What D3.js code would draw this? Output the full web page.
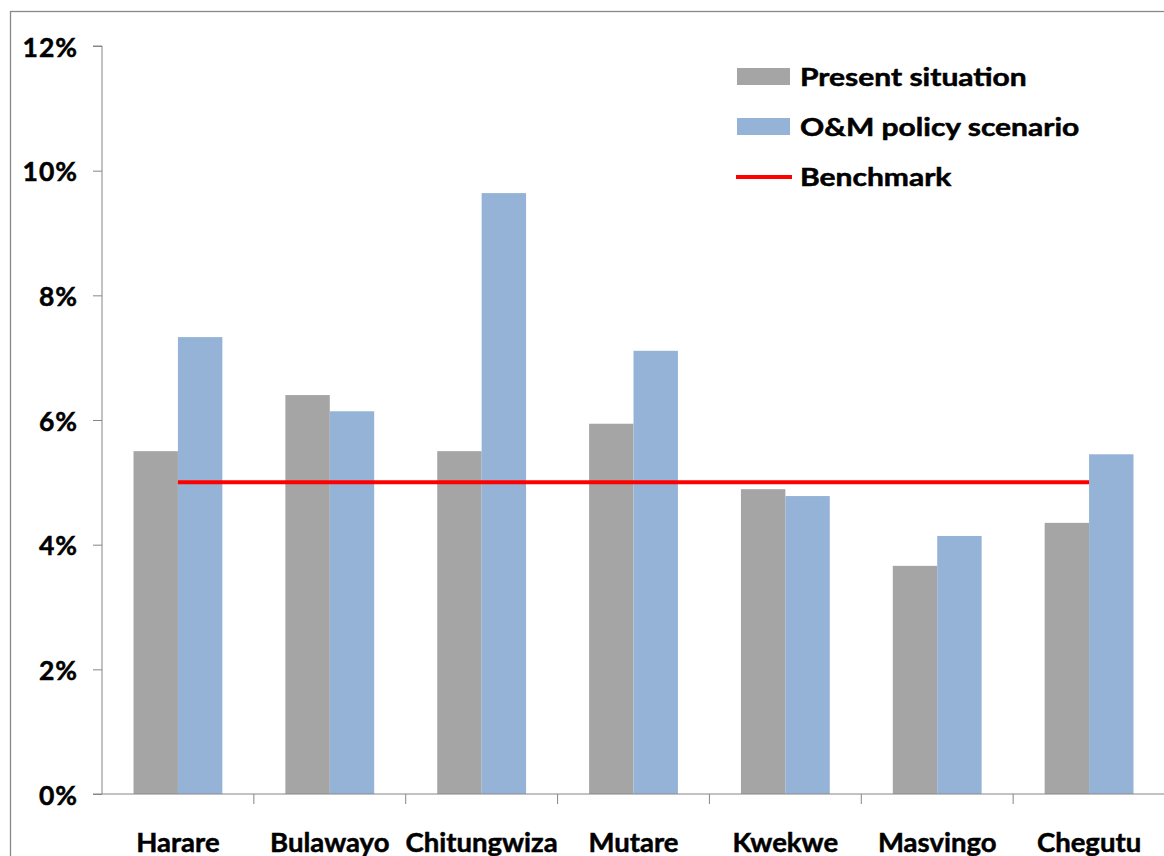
<!DOCTYPE html>
<html>
<head>
<meta charset="utf-8">
<script src="https://cdn.jsdelivr.net/npm/d3@7"></script>
<style>
  html, body { margin: 0; padding: 0; background: #fff; }
  svg { display: block; }
  text { font-family: "Lato", "Open Sans", sans-serif; font-weight: bold; fill: #000; stroke: #000; stroke-width: 0.5px; }
</style>
</head>
<body>
<svg id="chart" width="1164" height="856"></svg>
<script>
// Cities compared
const cities = ["Harare", "Bulawayo", "Chitungwiza", "Mutare", "Kwekwe", "Masvingo", "Chegutu"];
// Share values (fraction) per city
const presentSituation = [0.0550, 0.0640, 0.0550, 0.0594, 0.0489, 0.0366, 0.0435];
const omPolicyScenario = [0.0733, 0.0614, 0.0964, 0.0711, 0.0478, 0.0414, 0.0545];
const benchmark = 0.05;
const yTicks = [0, 0.02, 0.04, 0.06, 0.08, 0.10, 0.12];
const seriesNames = ["Present situation", "O&M policy scenario", "Benchmark"];
const colors = { present: "#A5A5A5", om: "#95B3D7", bench: "#FF0000", axis: "#868686" };

const svg = d3.select("#chart");

// Outer chart frame
svg.append("rect")
  .attr("x", 10.5).attr("y", 11.5)
  .attr("width", 1200).attr("height", 900)
  .attr("fill", "none").attr("stroke", "#898989").attr("stroke-width", 1.3);

const x0 = 102, x1 = 1165, yTop = 46, yBottom = 794;

const x = d3.scaleBand().domain(cities).range([x0, x1]).paddingInner(0.415).paddingOuter(0.2075);
const sub = d3.scaleBand().domain(["present", "om"]).range([0, x.bandwidth()]);
const y = d3.scaleLinear().domain([0, 0.12]).range([yBottom, yTop]);

// Bars
const rows = cities.map((c, i) => ({ city: c, present: presentSituation[i], om: omPolicyScenario[i] }));
const groups = svg.append("g").selectAll("g").data(rows).join("g")
  .attr("transform", d => `translate(${x(d.city)},0)`);
groups.selectAll("rect")
  .data(d => [{ k: "present", v: d.present }, { k: "om", v: d.om }])
  .join("rect")
  .attr("x", d => sub(d.k))
  .attr("width", sub.bandwidth())
  .attr("y", d => y(d.v))
  .attr("height", d => y(0) - y(d.v))
  .attr("fill", d => colors[d.k]);

// Benchmark line across category centres
const cx = c => x(c) + x.bandwidth() / 2;
svg.append("line")
  .attr("x1", cx(cities[0])).attr("x2", cx(cities[cities.length - 1]))
  .attr("y1", y(benchmark)).attr("y2", y(benchmark))
  .attr("stroke", colors.bench).attr("stroke-width", 4);

// Y axis
const yAxis = svg.append("g").attr("transform", `translate(${x0},0)`)
  .call(d3.axisLeft(y).tickValues(yTicks).tickFormat(d3.format(".0%")).tickSize(9).tickPadding(15));
yAxis.select(".domain").attr("stroke", colors.axis).attr("d", `M-9,${yTop}H0V${yBottom}H-9`);
yAxis.selectAll(".tick line").attr("stroke", colors.axis);
yAxis.selectAll(".tick text")
  .attr("font-size", 26.5).attr("font-family", "Lato").attr("font-weight", "bold")
  .attr("fill", "#000").attr("letter-spacing", 1).attr("dy", "0.38em");

// X axis
const xAxisG = svg.append("g").attr("transform", `translate(0,${yBottom})`);
xAxisG.append("line").attr("x1", x0).attr("x2", x1).attr("y1", 0).attr("y2", 0)
  .attr("stroke", colors.axis);
const boundaries = cities.slice(1).map(c => x(c) - x.step() * x.paddingInner() / 2);
xAxisG.selectAll("line.tk").data(boundaries).join("line").attr("class", "tk")
  .attr("x1", d => d).attr("x2", d => d).attr("y1", 0).attr("y2", 10)
  .attr("stroke", colors.axis);
xAxisG.selectAll("text").data(cities).join("text")
  .attr("x", d => cx(d)).attr("y", 58)
  .attr("text-anchor", "middle").attr("font-size", 27.5)
  .text(d => d);

// Legend (text is drawn horizontally widened)
const legend = svg.append("g").attr("transform", "translate(737,0)");
const legendRows = [
  { name: seriesNames[0], type: "rect", color: colors.present, cy: 77 },
  { name: seriesNames[1], type: "rect", color: colors.om, cy: 127 },
  { name: seriesNames[2], type: "line", color: colors.bench, cy: 177 }
];
legendRows.forEach(r => {
  if (r.type === "rect") {
    legend.append("rect").attr("x", 0).attr("y", r.cy - 9).attr("width", 53).attr("height", 17).attr("fill", r.color);
  } else {
    legend.append("line").attr("x1", -1).attr("x2", 55).attr("y1", r.cy).attr("y2", r.cy)
      .attr("stroke", r.color).attr("stroke-width", 4);
  }
  legend.append("text")
    .attr("transform", `translate(63,${r.cy + 9}) scale(1.25,1)`)
    .attr("font-size", 24).text(r.name);
});
</script>
</body>
</html>
